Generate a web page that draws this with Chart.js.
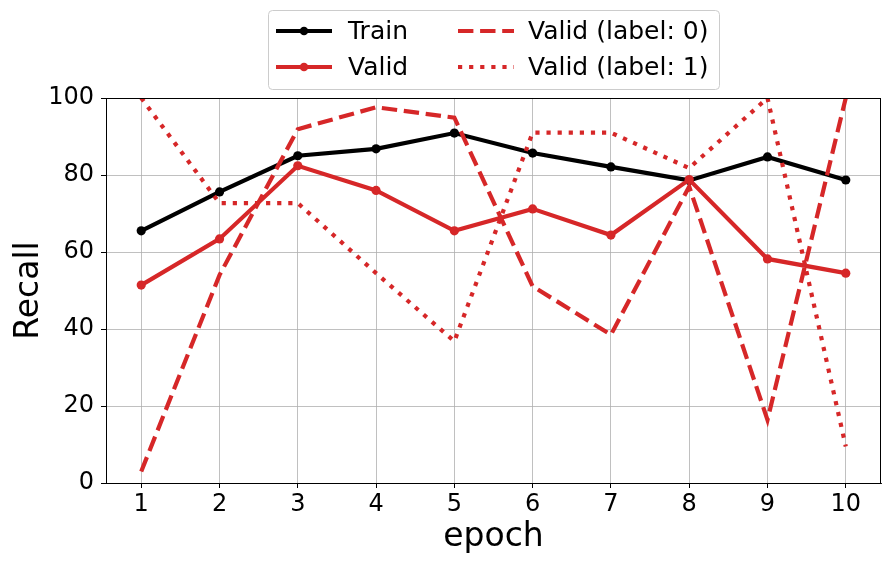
<!DOCTYPE html>
<html>
<head>
<meta charset="utf-8">
<script src="https://cdn.jsdelivr.net/npm/chart.js@4.4.1/dist/chart.umd.min.js"></script>
<style>
html,body{margin:0;padding:0;background:#fff;}
#wrap{width:890px;height:565px;position:relative;}
</style>
</head>
<body>
<div id="wrap"><canvas id="c" width="890" height="565"></canvas></div>
<script>
const epochs = [1,2,3,4,5,6,7,8,9,10];
const train = [65.5,75.6,85.0,86.8,90.9,85.7,82.1,78.6,84.7,78.7];
const valid = [51.4,63.4,82.4,76.0,65.5,71.2,64.4,78.8,58.2,54.5];
const valid0 = [3.0,54.0,91.9,97.6,94.9,51.1,38.5,77.0,16.4,100];
const valid1 = [100,72.7,72.7,54.5,36.8,91.0,91.0,81.8,100,9.5];
const yTicks = [0,20,40,60,80,100];
const labels = ['Train','Valid','Valid (label: 0)','Valid (label: 1)'];

const RED = '#d62728';
const FONT = "'DejaVu Sans', sans-serif";
const LW = 4.2;
const DASH = [15.4, 6.7];
const DOT = [4.2, 6.9];
const pts = arr => epochs.map((e,i)=>({x:e,y:arr[i]}));

const legendItems = [
  {label:labels[0], color:'#000', dash:[], marker:true, col:0, row:0},
  {label:labels[1], color:RED, dash:[], marker:true, col:0, row:1},
  {label:labels[2], color:RED, dash:DASH, marker:false, col:1, row:0},
  {label:labels[3], color:RED, dash:DOT, marker:false, col:1, row:1}
];

const framePlugin = {
  id:'frame',
  afterDraw(chart){
    const ctx = chart.ctx, a = chart.chartArea;
    ctx.save();
    ctx.strokeStyle = '#000';
    ctx.lineWidth = 1;
    ctx.strokeRect(Math.round(a.left)+0.5, Math.round(a.top)+0.5, Math.round(a.right-a.left)-1, Math.round(a.bottom-a.top));
    // legend
    const bx=268.5, by=10.5, bw=451, bh=79, r=4;
    ctx.beginPath();
    ctx.moveTo(bx+r,by);ctx.lineTo(bx+bw-r,by);ctx.quadraticCurveTo(bx+bw,by,bx+bw,by+r);
    ctx.lineTo(bx+bw,by+bh-r);ctx.quadraticCurveTo(bx+bw,by+bh,bx+bw-r,by+bh);
    ctx.lineTo(bx+r,by+bh);ctx.quadraticCurveTo(bx,by+bh,bx,by+bh-r);
    ctx.lineTo(bx,by+r);ctx.quadraticCurveTo(bx,by,bx+r,by);ctx.closePath();
    ctx.fillStyle='rgba(255,255,255,0.8)';ctx.fill();
    ctx.strokeStyle='#cccccc';ctx.lineWidth=1;ctx.stroke();
    const colX=[276,458], textX=[348,528], rowY=[31,67];
    legendItems.forEach(it=>{
      const x0=colX[it.col], y=rowY[it.row];
      ctx.save();
      ctx.strokeStyle=it.color;ctx.lineWidth=LW;ctx.lineCap='butt';
      ctx.setLineDash(it.dash);
      ctx.beginPath();ctx.moveTo(x0,y);ctx.lineTo(x0+56,y);ctx.stroke();
      ctx.setLineDash([]);
      if(it.marker){ctx.fillStyle=it.color;ctx.beginPath();ctx.arc(x0+28,y,4.3,0,Math.PI*2);ctx.fill();}
      ctx.fillStyle='#000';ctx.font='25px '+FONT;ctx.textBaseline='middle';ctx.textAlign='left';
      ctx.fillText(it.label,textX[it.col],y+1);
      ctx.restore();
    });
    ctx.restore();
  }
};

new Chart(document.getElementById('c'), {
  type:'line',
  data:{
    datasets:[
      {label:labels[0], data:pts(train), borderColor:'#000', backgroundColor:'#000', borderWidth:LW, pointRadius:4.6, pointHoverRadius:4.6, pointBorderWidth:0, order:4},
      {label:labels[1], data:pts(valid), borderColor:RED, backgroundColor:RED, borderWidth:LW, pointRadius:4.6, pointHoverRadius:4.6, pointBorderWidth:0, order:3},
      {label:labels[2], data:pts(valid0), borderColor:RED, borderWidth:LW, borderDash:DASH, borderCapStyle:'butt', pointRadius:0, order:2},
      {label:labels[3], data:pts(valid1), borderColor:RED, borderWidth:LW, borderDash:DOT, borderCapStyle:'butt', pointRadius:0, order:1}
    ]
  },
  options:{
    responsive:false,
    animation:false,
    layout:{padding:{top:98,right:9,left:0,bottom:0}},
    plugins:{legend:{display:false}, tooltip:{enabled:false}},
    scales:{
      x:{
        type:'linear', min:0.55, max:10.45,
        afterBuildTicks(s){ s.ticks = epochs.map(v=>({value:v})); },
        afterFit(s){ s.height = 82; },
        ticks:{font:{family:FONT,size:24}, color:'#000', padding:2},
        grid:{color:'#b0b0b0', lineWidth:0.8, tickColor:'#000', tickLength:5, tickWidth:1},
        border:{display:true, color:'#000', width:1},
        title:{display:true, text:'epoch', font:{family:FONT,size:33}, color:'#000', padding:{top:0,bottom:8}}
      },
      y:{
        type:'linear', min:0, max:100,
        afterBuildTicks(s){ s.ticks = yTicks.map(v=>({value:v})); },
        afterFit(s){ s.width = 106; },
        ticks:{font:{family:FONT,size:24}, color:'#000', padding:7},
        grid:{color:'#b0b0b0', lineWidth:0.8, tickColor:'#000', tickLength:5, tickWidth:1},
        border:{display:true, color:'#000', width:1},
        title:{display:true, text:'Recall', font:{family:FONT,size:33}, color:'#000', padding:{top:10,bottom:0}}
      }
    }
  },
  plugins:[framePlugin]
});
</script>
</body>
</html>
